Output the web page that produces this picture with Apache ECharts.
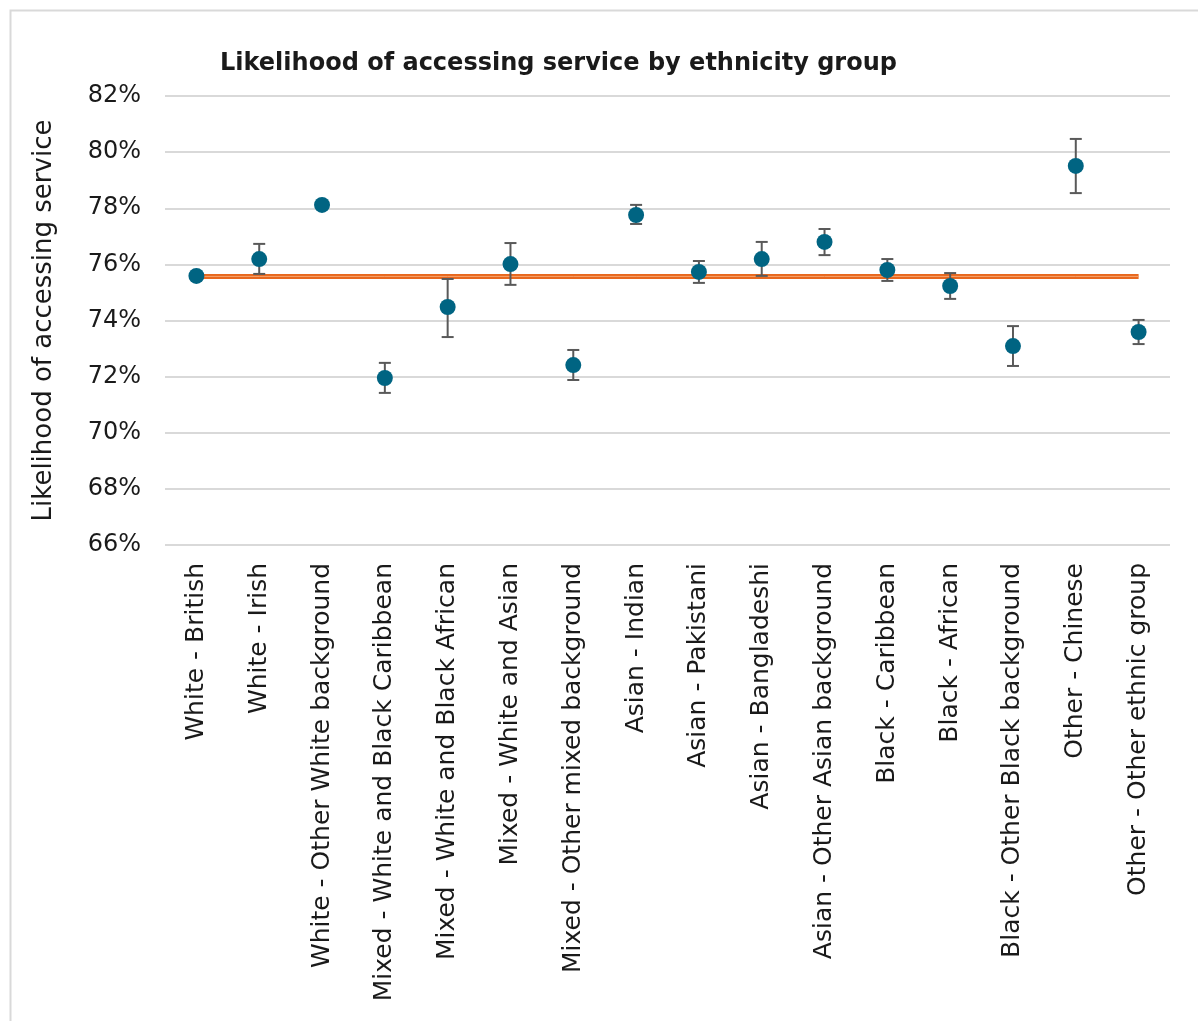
<!DOCTYPE html>
<html><head><meta charset="utf-8">
<script src="https://cdn.jsdelivr.net/npm/echarts@6/dist/echarts.min.js"></script>
<style>html,body{margin:0;padding:0;background:#fff}#c{width:1198px;height:1021px}</style>
</head><body><div id="c"></div>
<script>
const categories = ["White - British","White - Irish","White - Other White background","Mixed - White and Black Caribbean","Mixed - White and Black African","Mixed - White and Asian","Mixed - Other mixed background","Asian - Indian","Asian - Pakistani","Asian - Bangladeshi","Asian - Other Asian background","Black - Caribbean","Black - African","Black - Other Black background","Other - Chinese","Other - Other ethnic group"];
const values = [75.59,76.19,78.12,71.95,74.48,76.01,72.41,77.76,75.73,76.19,76.80,75.80,75.23,73.09,79.51,73.59];
const lower  = [75.52,75.66,78.00,71.42,73.41,75.27,71.88,77.44,75.34,75.59,76.33,75.41,74.77,72.38,78.54,73.16];
const upper  = [75.66,76.73,78.24,72.49,75.48,76.76,72.95,78.12,76.12,76.80,77.26,76.19,75.69,73.80,80.47,74.02];
const overall = [75.57,75.57,75.57,75.57,75.57,75.57,75.57,75.57,75.57,75.57,75.57,75.57,75.57,75.57,75.57,75.57];
const yTicks = [66,68,70,72,74,76,78,80,82];

const FONT = "DejaVu Sans";
const chart = echarts.init(document.getElementById('c'));
chart.setOption({
  animation:false,
  backgroundColor:'#fff',
  title:{text:'Likelihood of accessing service by ethnicity group',left:215,top:47,
    textStyle:{fontFamily:FONT,fontWeight:'bold',fontSize:24,color:'#1a1a1a'}},
  graphic:[{type:'rect',shape:{x:10.5,y:10.5,width:1200,height:1040},style:{fill:'none',stroke:'#d9d9d9',lineWidth:2}}],
  grid:{left:165,right:28,top:96,bottom:476},
  xAxis:{type:'category',data:categories,boundaryGap:true,
    axisLine:{show:false},axisTick:{show:false},
    axisLabel:{rotate:90,interval:0,margin:18,fontFamily:FONT,fontSize:25,color:'#1a1a1a'}},
  yAxis:{type:'value',min:66,max:82,interval:2,
    name:'Likelihood of accessing service',nameLocation:'middle',nameGap:108,nameRotate:90,
    nameTextStyle:{fontFamily:FONT,fontSize:26,color:'#1a1a1a'},
    axisLine:{show:false},axisTick:{show:false},
    splitLine:{lineStyle:{color:'#d9d9d9',width:2}},
    axisLabel:{formatter:v=>v+'%',margin:24,fontFamily:FONT,fontSize:24,color:'#1a1a1a'}},
  series:[
    {type:'line',data:overall,symbol:'none',z:2,lineStyle:{color:'#e8681e',width:5}},
    {type:'line',data:overall,symbol:'none',z:3,lineStyle:{color:'#f6a26c',width:1}},
    {type:'custom',z:4,data:categories.map((c,i)=>[i,lower[i],upper[i]]),
      renderItem:(params,api)=>{
        const x=api.value(0);
        const lo=api.coord([x,api.value(1)]), hi=api.coord([x,api.value(2)]);
        const w=6, st={stroke:'#595959',lineWidth:2};
        return {type:'group',children:[
          {type:'line',shape:{x1:lo[0],y1:lo[1],x2:hi[0],y2:hi[1]},style:st},
          {type:'line',shape:{x1:lo[0]-w,y1:lo[1],x2:lo[0]+w,y2:lo[1]},style:st},
          {type:'line',shape:{x1:hi[0]-w,y1:hi[1],x2:hi[0]+w,y2:hi[1]},style:st}
        ]};
      }},
    {type:'scatter',data:values,z:5,symbol:'circle',symbolSize:16,itemStyle:{color:'#006482',opacity:1}}
  ]
});
</script></body></html>
